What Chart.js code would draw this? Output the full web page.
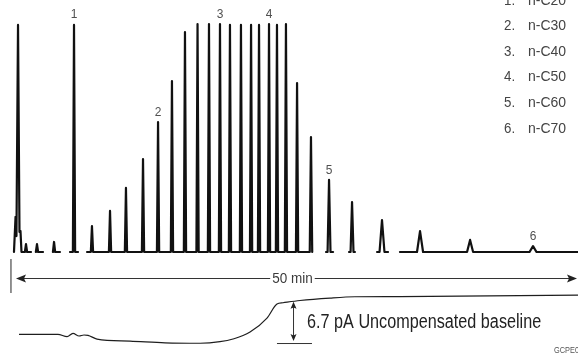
<!DOCTYPE html>
<html><head><meta charset="utf-8">
<script src="https://cdn.jsdelivr.net/npm/chart.js@4.4.1/dist/chart.umd.min.js"></script>
<style>html,body{margin:0;padding:0;background:#fff;overflow:hidden}canvas{display:block}</style>
</head><body>
<canvas id="c" width="578" height="356"></canvas>
<script>
// ---------------- data (time in minutes, response in % of full scale, drift in pA) ----------------
const runMinutes = 50;

// solvent front (explicit points)
const solventTimes   = [-0.18, -0.04, 0.04, 0.18, 0.31, 0.40, 0.49];
const solventHeights = [0, 15.4, 7.0, 99.6, 8.8, 9.2, 0];

// n-alkane peaks
const peakTimes = [0.89, 1.87, 3.39, 5.17, 6.77, 8.38, 9.80, 11.32, 12.66, 13.90,
                   15.06, 16.18, 17.20, 18.18, 19.07, 20.05, 20.95, 21.66, 22.55, 23.26,
                   24.06, 25.05, 26.29, 27.90, 29.95, 32.62, 36.01, 40.47, 46.08];
const peakHeights = [3.5, 3.5, 4.4, 99.6, 11.4, 18.0, 28.1, 40.8, 57.0, 75.0,
                     96.5, 100, 100, 100, 99.6, 99.6, 99.6, 99.6, 100, 99.6,
                     100, 74.1, 50.4, 31.6, 21.9, 14.0, 9.2, 5.3, 2.6];
const peakHalfWidths = [0.1, 0.1, 0.1, 0.1, 0.1, 0.1, 0.1, 0.1, 0.1, 0.1,
                        0.1, 0.1, 0.1, 0.1, 0.1, 0.1, 0.1, 0.1, 0.1, 0.1,
                        0.1, 0.1, 0.11, 0.13, 0.13, 0.22, 0.27, 0.27, 0.31];

// where the printed trace is visible (start, end) in minutes
const traceSegments = [[-0.18, 1.34], [1.78, 2.41], [3.30, 3.92], [4.81, 5.53], [6.33, 26.47],
                       [27.63, 28.26], [29.68, 30.21], [32.18, 33.16], [34.22, 50.09]];

// labelled peaks
const peakLabels = ["1", "2", "3", "4", "5", "6"];
const labeledPeakIndex = [3, 8, 13, 18, 23, 28];

// legend
const legendNumbers = ["1.", "2.", "3.", "4.", "5.", "6."];
const legendNames = ["n-C20", "n-C30", "n-C40", "n-C50", "n-C60", "n-C70"];

// uncompensated baseline (pA above its minimum)
const driftTimes  = [0.27, 3.74, 4.55, 5.08, 5.62, 6.06, 6.42, 7.22, 10.16, 13.28, 16.40,
                     18.18, 19.34, 20.86, 22.37, 23.26, 23.80, 25.31, 27.99, 30.21, 34.22, 50.09];
const driftValues = [1.27, 1.27, 0.92, 1.41, 1.02, 1.17, 1.12, 0.58, 0.29, 0.03, -0.03,
                     0.19, 0.58, 1.60, 3.64, 5.68, 5.87, 6.19, 6.55, 6.74, 6.77, 6.99];
const driftLabel = "6.7 pA Uncompensated baseline";
const driftSpan = 6.0;

// ---------------- build the line tables ----------------
const tracePoints = [];
traceSegments.forEach(([s, e], si) => {
  const pts = [];
  solventTimes.forEach((t, i) => { if (t >= s && t <= e) pts.push({x: t, y: solventHeights[i]}); });
  peakTimes.forEach((t, i) => {
    if (t >= s && t <= e) {
      pts.push({x: t - peakHalfWidths[i], y: 0});
      pts.push({x: t, y: peakHeights[i]});
      pts.push({x: t + peakHalfWidths[i], y: 0});
    }
  });
  pts.sort((a, b) => a.x - b.x);
  if (!pts.length || pts[0].x > s) pts.unshift({x: s, y: 0});
  if (pts[pts.length - 1].x < e) pts.push({x: e, y: 0});
  tracePoints.push(...pts);
  if (si < traceSegments.length - 1) tracePoints.push({x: (e + traceSegments[si + 1][0]) / 2, y: null});
});
const driftPoints = driftTimes.map((t, i) => ({x: t, y: driftValues[i]}));

// ---------------- text helper ----------------
const FONT = '"Liberation Sans", Arial, sans-serif';
function drawText(ctx, s, x, y, size, weight, align, sx, color) {
  ctx.save();
  ctx.font = weight + ' ' + size + 'px ' + FONT;
  ctx.fillStyle = color;
  ctx.textBaseline = 'middle';
  const w = ctx.measureText(s).width * sx;
  const left = align === 'center' ? x - w / 2 : (align === 'right' ? x - w : x);
  ctx.translate(left, y);
  ctx.scale(sx, 1);
  ctx.textAlign = 'left';
  ctx.fillText(s, 0, 0);
  ctx.restore();
  return {left: left, right: left + w};
}
function arrowHead(ctx, x, y, dir, len, half) {
  ctx.beginPath();
  if (dir === 'left')  { ctx.moveTo(x, y); ctx.lineTo(x + len, y - half); ctx.lineTo(x + len * 0.8, y); ctx.lineTo(x + len, y + half); }
  if (dir === 'right') { ctx.moveTo(x, y); ctx.lineTo(x - len, y - half); ctx.lineTo(x - len * 0.8, y); ctx.lineTo(x - len, y + half); }
  if (dir === 'up')    { ctx.moveTo(x, y); ctx.lineTo(x - half, y + len); ctx.lineTo(x, y + len * 0.8); ctx.lineTo(x + half, y + len); }
  if (dir === 'down')  { ctx.moveTo(x, y); ctx.lineTo(x - half, y - len); ctx.lineTo(x, y - len * 0.8); ctx.lineTo(x + half, y - len); }
  ctx.closePath(); ctx.fill();
}

const annotations = {
  id: 'annotations',
  afterDatasetsDraw(chart) {
    const ctx = chart.ctx, xs = chart.scales.x, ys = chart.scales.y, y2 = chart.scales.y2;
    ctx.save();
    // peak numbers
    labeledPeakIndex.forEach((pi, i) => {
      drawText(ctx, peakLabels[i], xs.getPixelForValue(peakTimes[pi]),
               ys.getPixelForValue(peakHeights[pi]) - 10, 13, '400', 'center', 0.92, '#505050');
    });
    // legend list
    legendNames.forEach((n, i) => {
      const yy = 0.8 + i * 25.6;
      drawText(ctx, legendNumbers[i], 504, yy, 14, '400', 'left', 0.95, '#444');
      drawText(ctx, n, 528, yy, 14, '400', 'left', 1.0, '#444');
    });
    // run-time arrow
    const ay = ys.getPixelForValue(-11.4);
    const x0 = xs.getPixelForValue(0), x1 = xs.getPixelForValue(runMinutes);
    const t = drawText(ctx, runMinutes + ' min', xs.getPixelForValue(24.64), ay + 1, 15, '400', 'center', 0.9, '#3a3a3a');
    ctx.strokeStyle = '#333'; ctx.fillStyle = '#222'; ctx.lineWidth = 1;
    ctx.beginPath();
    ctx.moveTo(x0 + 4, ay + 0.5); ctx.lineTo(t.left - 2, ay + 0.5);
    ctx.moveTo(t.right + 2, ay + 0.5); ctx.lineTo(x1 - 4, ay + 0.5);
    ctx.stroke();
    arrowHead(ctx, x0, ay + 0.5, 'left', 10, 4);
    arrowHead(ctx, x1, ay + 0.5, 'right', 10, 4);
    // injection bar
    ctx.strokeStyle = '#777'; ctx.lineWidth = 1.6;
    const bx = xs.getPixelForValue(-0.45);
    ctx.beginPath(); ctx.moveTo(bx, ys.getPixelForValue(-3.1)); ctx.lineTo(bx, ys.getPixelForValue(-18.0)); ctx.stroke();
    // drift span arrow
    const dx = xs.getPixelForValue(24.69);
    const yb = y2.getPixelForValue(0), yt = y2.getPixelForValue(driftSpan);
    ctx.strokeStyle = '#333'; ctx.fillStyle = '#222'; ctx.lineWidth = 1;
    ctx.beginPath();
    ctx.moveTo(xs.getPixelForValue(23.26), yb + 0.5); ctx.lineTo(xs.getPixelForValue(26.38), yb + 0.5);
    ctx.moveTo(dx + 0.5, yt + 4); ctx.lineTo(dx + 0.5, yb - 5);
    ctx.stroke();
    arrowHead(ctx, dx + 0.5, yt, 'up', 7, 3);
    arrowHead(ctx, dx + 0.5, yb - 2, 'down', 7, 3);
    drawText(ctx, driftLabel, xs.getPixelForValue(25.94), y2.getPixelForValue(3.06), 20, '400', 'left', 0.81, '#222');
    // figure code
    drawText(ctx, 'GCPE01', 554, 350.5, 9, '400', 'left', 0.82, '#555');
    ctx.restore();
  }
};

new Chart(document.getElementById('c'), {
  type: 'line',
  data: {
    datasets: [
      {label: 'FID signal', data: tracePoints, yAxisID: 'y', borderColor: '#111', borderWidth: 2.2,
       pointRadius: 0, tension: 0, spanGaps: false, borderJoinStyle: 'round', borderCapStyle: 'round'},
      {label: 'Uncompensated baseline', data: driftPoints, yAxisID: 'y2', borderColor: '#1e1e1e', borderWidth: 1.2,
       pointRadius: 0, cubicInterpolationMode: 'monotone'}
    ]
  },
  options: {
    responsive: false, animation: false,
    layout: {padding: 0},
    plugins: {legend: {display: false}, tooltip: {enabled: false}},
    scales: {
      x: {type: 'linear', min: -1.426, max: 50.089, display: false},
      y: {min: -45.61, max: 110.53, display: false},
      y2: {min: -1.89, max: 49.96, display: false}
    }
  },
  plugins: [annotations]
});
</script>
</body></html>
